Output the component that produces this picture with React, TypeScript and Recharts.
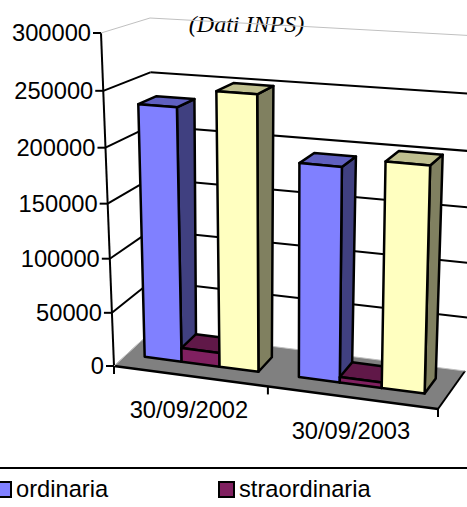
import { BarChart, Bar, XAxis, YAxis, ReferenceArea, ReferenceLine, Legend } from "recharts";

const dates = ["30/09/2002", "30/09/2003"];
const ordinaria = [234000, 194000];
const straordinaria = [13000, 5000];
const terzaSerie = [251000, 202000];
const yTicks = [0, 50000, 100000, 150000, 200000, 250000, 300000];

const data = dates.map((date, i) => ({
  date,
  ordinaria: ordinaria[i],
  straordinaria: straordinaria[i],
  terzaSerie: terzaSerie[i],
}));

const CHART_W = 467;
const CHART_H = 507;
// axes take 1px each, so the flat plot starts at 100 and ends 100 from the bottom
const MARGIN = { top: 30, right: 30, bottom: 99, left: 99 };
const PLOT_LEFT = 100;
const PLOT_W = CHART_W - PLOT_LEFT - MARGIN.right;
const PLOT_H = CHART_H - MARGIN.top - 100;

const FONT = "'Liberation Sans', Arial, sans-serif";
const FONT_SIZE = 23.7;

// corners of the 3D box on screen: [x, y] front/back, bottom/top, left/right
const BOX = {
  fb0: [114, 366],
  fb1: [438, 409],
  ft0: [101, 33],
  ft1: [446, 58],
  bb0: [152, 331],
  bb1: [465, 371],
  bt0: [150, 18],
  bt1: [478, 36],
};
const BAR_D0 = 0.33;
const BAR_D1 = 0.73;

const lerp = (a: number, b: number, t: number) => a + (b - a) * t;

// u, v are flat plot fractions, d is depth into the box
const project = (u: number, v: number, d: number) => {
  const wu = u - 0.1 * u * (1 - u);
  const wv = v - 0.05 * v * (1 - v);
  return [0, 1].map((k) => {
    const front = lerp(lerp(BOX.fb0[k], BOX.fb1[k], wu), lerp(BOX.ft0[k], BOX.ft1[k], wu), wv);
    const back = lerp(lerp(BOX.bb0[k], BOX.bb1[k], wu), lerp(BOX.bt0[k], BOX.bt1[k], wu), wv);
    return lerp(front, back, d);
  });
};

const toU = (x: number) => (x - PLOT_LEFT) / PLOT_W;
const toV = (y: number) => (MARGIN.top + PLOT_H - y) / PLOT_H;

const poly = (pts: number[][]) => pts.map((p) => p.join(",")).join(" ");

const makeBar = (front: string, top: string, side: string) => (props: any) => {
  const { x, y, width, height } = props;
  const u0 = toU(x);
  const u1 = toU(x + width);
  const v0 = toV(y + height);
  const v1 = toV(y);
  const style = { stroke: "#000", strokeWidth: 2.5, strokeLinejoin: "round" as const };
  return (
    <g>
      <polygon
        points={poly([project(u1, v0, BAR_D0), project(u1, v0, BAR_D1), project(u1, v1, BAR_D1), project(u1, v1, BAR_D0)])}
        fill={side}
        {...style}
      />
      <polygon
        points={poly([project(u0, v1, BAR_D0), project(u1, v1, BAR_D0), project(u1, v1, BAR_D1), project(u0, v1, BAR_D1)])}
        fill={top}
        {...style}
      />
      <polygon
        points={poly([project(u0, v0, BAR_D0), project(u1, v0, BAR_D0), project(u1, v1, BAR_D0), project(u0, v1, BAR_D0)])}
        fill={front}
        {...style}
      />
    </g>
  );
};

// wall gridline: side wall segment, then back wall segment
const makeGridLine = (value: number) => (props: any) => {
  const v = toV(props.y1 ?? props.viewBox?.y ?? 0);
  const a = project(0, v, 0);
  const b = project(0, v, 1);
  const c = project(1, v, 1);
  const faint = value === 0 || value === 300000;
  const color = faint ? "#c0c0c0" : "#000";
  const width = faint ? 1 : 2;
  return (
    <g>
      <line x1={a[0]} y1={a[1]} x2={b[0]} y2={b[1]} stroke={color} strokeWidth={width} />
      <line x1={b[0]} y1={b[1]} x2={c[0]} y2={c[1]} stroke={color} strokeWidth={width} />
    </g>
  );
};

const YTick = ({ y, payload }: any) => {
  const a = project(0, toV(y), 0);
  return (
    <g>
      <line x1={a[0] - 8} y1={a[1]} x2={a[0]} y2={a[1]} stroke="#000" strokeWidth={2} />
      <text
        x={a[0] - 10}
        y={a[1]}
        textAnchor="end"
        dominantBaseline="central"
        fontFamily={FONT}
        fontSize={FONT_SIZE}
        fill="#000"
      >
        {payload.value}
      </text>
    </g>
  );
};

const XTick = ({ x, payload }: any) => {
  const p = project(toU(x), 0, 0);
  return (
    <text
      x={p[0]}
      y={p[1] + 34}
      textAnchor="middle"
      dominantBaseline="central"
      fontFamily={FONT}
      fontSize={FONT_SIZE}
      fill="#000"
    >
      {payload.value}
    </text>
  );
};

// floor, axis edges and the note on the back wall
const Box3D = () => {
  const fl = project(0, 0, 0);
  const fr = project(1, 0, 0);
  const br = project(1, 0, 1);
  const bl = project(0, 0, 1);
  const top = project(0, 1, 0);
  const mid = project(0.5, 0, 0);
  return (
    <g>
      <polygon points={poly([fl, fr, br, bl])} fill="#808080" />
      <line x1={bl[0]} y1={bl[1]} x2={fl[0]} y2={fl[1]} stroke="#c0c0c0" strokeWidth={1} />
      <line x1={fr[0]} y1={fr[1]} x2={br[0]} y2={br[1]} stroke="#000" strokeWidth={2} />
      <line x1={fl[0]} y1={fl[1]} x2={fr[0]} y2={fr[1]} stroke="#000" strokeWidth={2.5} />
      <line x1={top[0]} y1={top[1]} x2={fl[0]} y2={fl[1]} stroke="#000" strokeWidth={2} />
      {[fl, mid, fr].map((p, i) => (
        <line key={i} x1={p[0]} y1={p[1]} x2={p[0]} y2={p[1] + 8} stroke="#000" strokeWidth={2} />
      ))}
      <text x={246.5} y={32} textAnchor="middle" fontFamily="'Liberation Serif', serif" fontStyle="italic" fontSize={24} fill="#000">
        (Dati INPS)
      </text>
    </g>
  );
};

const LEGEND_X = [-5, 218];

const LegendBlock = ({ payload }: any) => (
  <div style={{ position: "absolute", left: 0, top: 0, width: CHART_W, height: 0 }}>
    <div style={{ position: "absolute", left: 0, top: 467, width: CHART_W, height: 2, background: "#000" }} />
    {(payload || [])
      .filter((entry: any) => entry.type !== "none")
      .map((entry: any, i: number) => (
        <div key={entry.value}>
          <div
            style={{
              position: "absolute",
              left: LEGEND_X[i],
              top: 481,
              width: 13,
              height: 13,
              background: entry.color,
              border: "2px solid #000",
            }}
          />
          <div
            style={{
              position: "absolute",
              left: LEGEND_X[i] + 21,
              top: 475,
              fontFamily: FONT,
              fontSize: FONT_SIZE,
              lineHeight: "28px",
              color: "#000",
              whiteSpace: "nowrap",
            }}
          >
            {entry.value}
          </div>
        </div>
      ))}
  </div>
);

export default function App() {
  return (
    <div style={{ position: "absolute", left: 0, top: 0, width: CHART_W, height: CHART_H, overflow: "hidden" }}>
      <BarChart width={CHART_W} height={CHART_H} data={data} margin={MARGIN} barCategoryGap="12.5%" barGap={0}>
        <XAxis dataKey="date" height={1} axisLine={false} tickLine={false} tick={XTick} interval={0} />
        <YAxis width={1} domain={[0, 300000]} ticks={yTicks} axisLine={false} tickLine={false} tick={YTick} interval={0} />
        <ReferenceArea y1={0} y2={300000} shape={Box3D} zIndex={100} />
        {yTicks.map((t) => (
          <ReferenceLine key={t} y={t} shape={makeGridLine(t)} zIndex={100} />
        ))}
        <Legend content={LegendBlock} wrapperStyle={{ position: "absolute", left: 0, top: 0, height: 0, width: 0 }} />
        <Bar dataKey="ordinaria" fill="#8080ff" isAnimationActive={false} shape={makeBar("#8080ff", "#6060c0", "#404080")} />
        <Bar dataKey="straordinaria" fill="#802060" isAnimationActive={false} shape={makeBar("#802060", "#601848", "#601848")} />
        <Bar dataKey="terzaSerie" fill="#ffffc0" legendType="none" isAnimationActive={false} shape={makeBar("#ffffc0", "#c0c090", "#808060")} />
      </BarChart>
    </div>
  );
}
